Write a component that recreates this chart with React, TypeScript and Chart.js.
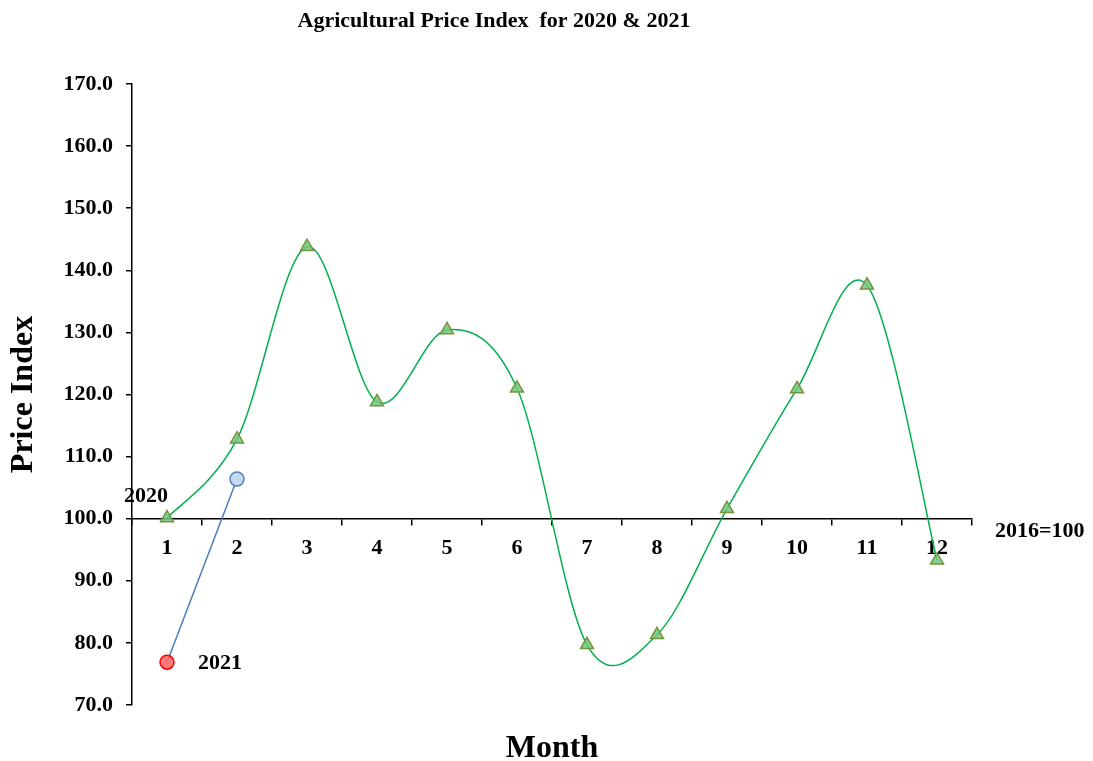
import React, { useEffect, useRef } from "react";
import { Chart, registerables } from "chart.js";

Chart.register(...registerables);

const months = ["1", "2", "3", "4", "5", "6", "7", "8", "9", "10", "11", "12"];
const index2020 = [100.1, 112.8, 143.8, 118.8, 130.4, 121.0, 79.7, 81.3, 101.6, 120.9, 137.6, 93.3];
const index2021 = [76.9, 106.4];
const yMin = 70;
const yMax = 170;
const baseValue = 100;
const chartTitle = "Agricultural Price Index  for 2020 & 2021";
const yTitle = "Price Index";
const xTitle = "Month";
const baseNote = "2016=100";
const seriesNames = ["2020", "2021"];

const FONT = "'Liberation Serif', 'Times New Roman', serif";

// Excel-like (uniform Catmull-Rom) smoothing for the 2020 line
const smoothing = {
  id: "smoothing",
  beforeDatasetDraw(chart: any, args: any) {
    if (args.index !== 0) return;
    const meta = args.meta;
    const line = meta.dataset;
    const pts = meta.data;
    if (!line || !pts || pts.length < 2) return;
    line.updateControlPoints(chart.chartArea, "x");
    const k = 1 / 6;
    for (let i = 0; i < pts.length; i++) {
      const prev = pts[Math.max(0, i - 1)];
      const next = pts[Math.min(pts.length - 1, i + 1)];
      const cur = pts[i];
      const dx = (next.x - prev.x) * k;
      const dy = (next.y - prev.y) * k;
      cur.cp1x = cur.x - dx;
      cur.cp1y = cur.y - dy;
      cur.cp2x = cur.x + dx;
      cur.cp2y = cur.y + dy;
    }
  },
};

const annotations = {
  id: "annotations",
  afterDraw(chart: any) {
    const { ctx, chartArea } = chart;
    const xs = chart.scales.x;
    const ys = chart.scales.y;
    ctx.save();
    ctx.fillStyle = "#000";
    ctx.font = `bold 22px ${FONT}`;
    ctx.textAlign = "center";
    ctx.textBaseline = "middle";
    ctx.fillText(chartTitle, 494, 21);

    ctx.font = `bold 22px ${FONT}`;
    ctx.textAlign = "center";
    ctx.fillText(seriesNames[0], xs.getPixelForValue(0) - 21, ys.getPixelForValue(index2020[0]) - 22);
    ctx.textAlign = "left";
    ctx.fillText(seriesNames[1], xs.getPixelForValue(0) + 31, ys.getPixelForValue(index2021[0]) + 1);
    ctx.fillText(baseNote, chartArea.right + 23, ys.getPixelForValue(baseValue) + 13);
    ctx.restore();
  },
};

export default function App() {
  const ref = useRef<HTMLCanvasElement>(null);
  useEffect(() => {
    if (!ref.current) return;
    const tickFont = { family: FONT, size: 22, weight: "bold" as const };
    const chart = new Chart(ref.current, {
      type: "line",
      data: {
        labels: months,
        datasets: [
          {
            label: seriesNames[0],
            data: index2020,
            borderColor: "#00B050",
            borderWidth: 1.5,
            tension: 0.4,
            pointStyle: "triangle",
            pointRadius: 7.5,
            pointBackgroundColor: "rgba(110,200,130,0.85)",
            pointBorderColor: "#77933C",
            pointBorderWidth: 1.5,
          },
          {
            label: seriesNames[1],
            data: index2021,
            borderColor: "#4A7EBB",
            borderWidth: 1.5,
            tension: 0,
            pointStyle: "circle",
            pointRadius: 7,
            pointBackgroundColor: ["rgba(255,100,100,0.85)", "#C6D9F1"],
            pointBorderColor: ["#FF0000", "#4F81BD"],
            pointBorderWidth: 1.5,
          },
        ],
      },
      options: {
        responsive: false,
        animation: false,
        layout: { padding: { top: 84, right: 121, left: 0, bottom: 0 } },
        plugins: { legend: { display: false }, tooltip: { enabled: false }, title: { display: false } },
        scales: {
          x: {
            type: "category",
            position: { y: baseValue },
            offset: true,
            grid: { offset: true, drawOnChartArea: false, drawTicks: true, tickLength: 6, color: "#000", lineWidth: 1.5 },
            border: { display: true, color: "#000", width: 1.5 },
            ticks: { font: tickFont, color: "#000", padding: 10, maxRotation: 0, autoSkip: false },
            afterFit: (s: any) => { s.height = 0; },
          },
          x2: {
            type: "category",
            position: "bottom",
            offset: true,
            grid: { display: false },
            border: { display: false },
            ticks: { display: false },
            title: { display: true, text: xTitle, color: "#000", font: { family: FONT, size: 32, weight: "bold", lineHeight: 0.76 }, padding: 0 },
            afterFit: (s: any) => { s.height = 56; },
          },
          y: {
            min: yMin,
            max: yMax,
            ticks: { stepSize: 10, font: tickFont, color: "#000", padding: 13, callback: (v: any) => Number(v).toFixed(1) },
            grid: { drawOnChartArea: false, drawTicks: true, tickLength: 6, color: "#000", lineWidth: 1.5 },
            border: { display: true, color: "#000", width: 1.5 },
            title: { display: true, text: yTitle, color: "#000", font: { family: FONT, size: 32, weight: "bold", lineHeight: 1 }, padding: { top: 8, bottom: 0 } },
            afterFit: (s: any) => { s.width = 132; },
          },
        },
      },
      plugins: [smoothing, annotations],
    });
    return () => chart.destroy();
  }, []);
  return (
    <div style={{ position: "fixed", left: 0, top: 0, width: 1093, height: 761, background: "#fff" }}>
      <canvas ref={ref} width={1093} height={761} style={{ display: "block" }} />
    </div>
  );
}
